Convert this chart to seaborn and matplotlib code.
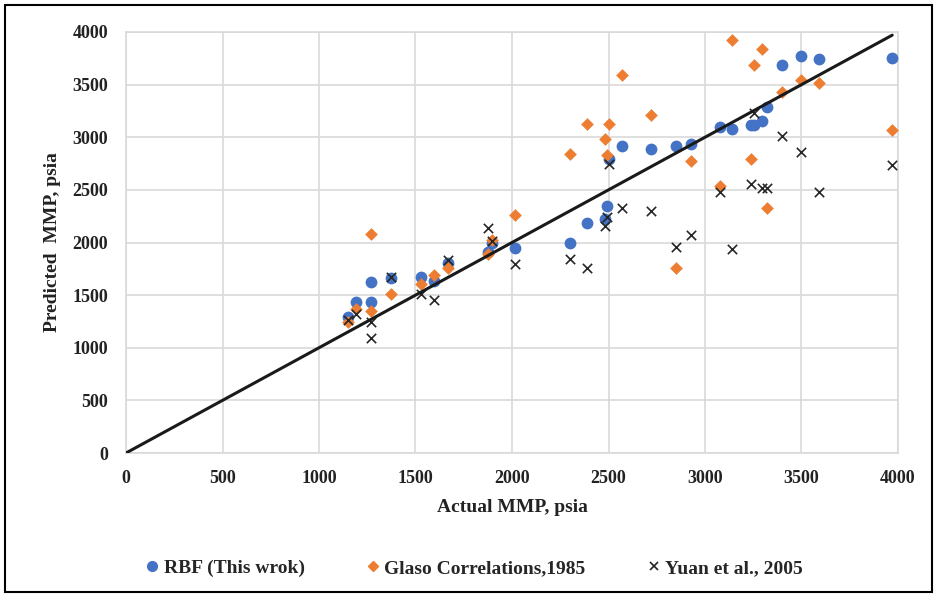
import matplotlib
matplotlib.use("Agg")
import matplotlib.pyplot as plt
from matplotlib.patches import Rectangle
from matplotlib.lines import Line2D
import seaborn as sns
import pandas as pd

actual = [1150, 1190, 1270, 1270, 1375, 1530, 1595, 1670, 1875, 1895, 2015,
          2300, 2390, 2480, 2490, 2500, 2570, 2720, 2850, 2930, 3080, 3140,
          3240, 3255, 3295, 3320, 3400, 3495, 3590, 3970]
rbf = [1290, 1430, 1620, 1430, 1665, 1670, 1630, 1805, 1905, 2000, 1950,
       2000, 2185, 2225, 2345, 2795, 2915, 2890, 2915, 2940, 3100, 3080,
       3120, 3120, 3150, 3290, 3690, 3775, 3745, 3750]
glaso = [1240, 1370, 2085, 1350, 1515, 1610, 1695, 1755, 1895, 2020, 2265,
         2840, 3130, 2985, 2835, 3130, 3595, 3215, 1760, 2770, 2540, 3920,
         2790, 3685, 3835, 2330, 3430, 3540, 3520, 3065]
yuan = [1260, 1325, 1240, 1095, 1675, 1515, 1450, 1830, 2140, 2010, 1800,
        1840, 1755, 2155, 2245, 2750, 2325, 2300, 1960, 2075, 2480, 1940,
        2555, 3230, 2520, 2520, 3015, 2860, 2480, 2735]

series_names = ["RBF (This wrok)", "Glaso Correlations,1985", "Yuan et al., 2005"]
x_ticks = [0, 500, 1000, 1500, 2000, 2500, 3000, 3500, 4000]
y_ticks = [0, 500, 1000, 1500, 2000, 2500, 3000, 3500, 4000]

df = pd.DataFrame({"actual": actual, "rbf": rbf, "glaso": glaso, "yuan": yuan})

sns.set_style("white")
plt.rcParams["font.family"] = ["Liberation Serif", "DejaVu Serif"]

fig = plt.figure(figsize=(9.36, 5.95), dpi=100)
ax = fig.add_axes([126 / 936, 1 - 453 / 595, (898 - 126) / 936, (453 - 32) / 595])

blue = "#4472C4"
orange = "#ED7D31"
dark = "#262626"

sns.scatterplot(data=df, x="actual", y="rbf", ax=ax, color=blue, marker="o",
                s=72, linewidth=0, zorder=3)
sns.scatterplot(data=df, x="actual", y="glaso", ax=ax, color=orange, marker="D",
                s=42, linewidth=0, zorder=3)
sns.scatterplot(data=df, x="actual", y="yuan", ax=ax, color=dark, marker="x",
                s=45, linewidth=1.2, zorder=3)

xmax = max(actual)
sns.lineplot(x=[0, xmax], y=[0, xmax], ax=ax, color="#1a1a1a", linewidth=2.2,
             zorder=4)

ax.set_xlim(0, 4000)
ax.set_ylim(0, 4000)
ax.set_xticks(x_ticks)
ax.set_yticks(y_ticks)
ax.grid(True, color="#d9d9d9", linewidth=1.2, zorder=0)
ax.set_axisbelow(True)
for sp in ax.spines.values():
    sp.set_color("#d9d9d9")
    sp.set_linewidth(1.2)
ax.tick_params(axis="both", length=0, labelsize=13, colors="#222222")
ax.tick_params(axis="x", pad=12)
ax.tick_params(axis="y", pad=13)
for lab in ax.get_xticklabels() + ax.get_yticklabels():
    lab.set_fontweight("bold")

ax.set_xlabel("Actual MMP, psia", fontsize=14, fontweight="bold",
              color="#222222", labelpad=9)
ax.set_ylabel("Predicted  MMP, psia", fontsize=14, fontweight="bold",
              color="#222222", labelpad=8)

handles = [
    Line2D([], [], linestyle="none", marker="o", color=blue, markersize=7),
    Line2D([], [], linestyle="none", marker="D", color=orange, markersize=5),
    Line2D([], [], linestyle="none", marker="x", color=dark, markersize=6,
           markeredgewidth=1.2),
]
fig.legend(handles, series_names, loc="center", bbox_to_anchor=(0.505, 1 - 568 / 595),
           ncol=3, frameon=False, prop={"family": "Liberation Serif",
                                        "weight": "bold", "size": 14},
           handletextpad=0.1, columnspacing=3.0, handlelength=1.0)

fig.patches.append(Rectangle((5 / 936, 3 / 595), 927 / 936, 587 / 595,
                             transform=fig.transFigure, fill=False,
                             edgecolor="black", linewidth=1.5))

fig.savefig("out.png", dpi=100)
